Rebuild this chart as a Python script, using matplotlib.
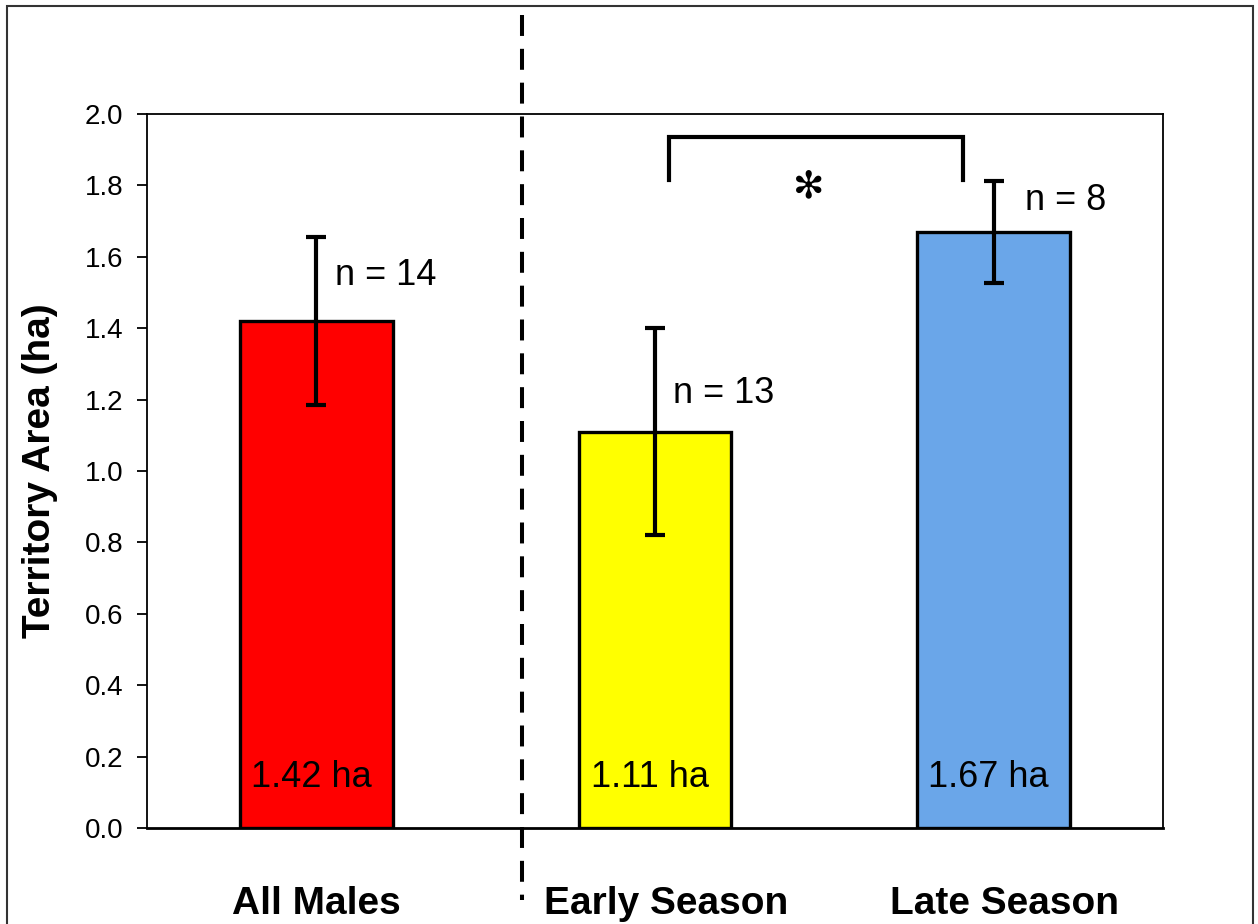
import matplotlib
matplotlib.use("Agg")
import matplotlib.pyplot as plt
from matplotlib.lines import Line2D
from matplotlib.patches import Rectangle
from matplotlib.transforms import ScaledTranslation
import numpy as np

# ---- data ----
categories = ["All Males", "Early Season", "Late Season"]
means = [1.42, 1.11, 1.67]
errors = [0.235, 0.29, 0.143]
colors = ["#FF0000", "#FFFF00", "#6AA6E9"]
n_labels = ["n = 14", "n = 13", "n = 8"]
value_labels = ["1.42 ha", "1.11 ha", "1.67 ha"]
y_ticks = [0.0, 0.2, 0.4, 0.6, 0.8, 1.0, 1.2, 1.4, 1.6, 1.8, 2.0]
y_label = "Territory Area (ha)"
sig_label = "✻"

FONT = ["Liberation Sans", "DejaVu Sans"]
plt.rcParams["font.family"] = FONT

fig = plt.figure(figsize=(12.58, 9.24), dpi=100)
ax = fig.add_axes([147 / 1258, 1 - 828 / 924, 1016 / 1258, 714 / 924])

x = np.arange(len(categories))
ax.bar(x, means, width=0.45, color=colors, edgecolor="black", linewidth=2.4, zorder=2)
ax.errorbar(x, means, yerr=errors, fmt="none", ecolor="black", elinewidth=3,
            capsize=7.5, capthick=3, zorder=3)

ax.set_xlim(-0.5, 2.5)
ax.set_ylim(0, 2.0)
ax.set_yticks(y_ticks)
ax.set_yticklabels([f"{v:.1f}" for v in y_ticks], fontsize=20)
ax.set_xticks(x)
ax.set_xticklabels(categories, fontsize=28, fontweight="bold")
ax.tick_params(axis="x", length=0, pad=42)
ax.tick_params(axis="y", direction="out", length=7, width=1.3, pad=10)
# small horizontal nudges of category labels as in the reference
label_shift_px = [0, 11, 11]
for lab, dx in zip(ax.get_xticklabels(), label_shift_px):
    lab.set_transform(lab.get_transform() + ScaledTranslation(dx / 100, 0, fig.dpi_scale_trans))
for s in ["left", "top", "right"]:
    ax.spines[s].set_linewidth(1.3)
ax.spines["bottom"].set_linewidth(2.0)

ax.set_ylabel(y_label, fontsize=28, fontweight="bold", va="center")
ax.yaxis.set_label_coords(-0.105, 0.5)

# n labels (placed just right of each error bar top)
n_pos = [(0.055, 1.52), (1.053, 1.19), (2.092, 1.732)]
for (tx, ty), lab in zip(n_pos, n_labels):
    ax.text(tx, ty, lab, fontsize=26, ha="left", va="baseline")

# value labels inside bars
for xi, lab in zip(x, value_labels):
    ax.text(xi - 0.015, 0.115, lab, fontsize=26, ha="center", va="baseline", zorder=4)

# significance bracket
bx0, bx1, by_top, by_leg = 1.041, 1.909, 1.936, 1.815
ax.plot([bx0, bx0, bx1, bx1], [by_leg, by_top, by_top, by_leg], color="black",
        linewidth=3, solid_joinstyle="miter", clip_on=False, zorder=3)
ax.text(1.455, 1.795, sig_label, fontsize=27, ha="center", va="center",
        family=["DejaVu Sans"], fontweight="bold")

# vertical dashed separator (figure coordinates)
fig.add_artist(Line2D([522 / 1258, 522 / 1258], [1 - 15 / 924, 1 - 900 / 924],
                      color="black", linewidth=2.9, linestyle=(0, (5.2, 3.2))))

# outer frame
fig.add_artist(Rectangle((7 / 1258, -0.05), (1253 - 7) / 1258, (1 - 6 / 924) + 0.05,
                         fill=False, edgecolor="#333333", linewidth=1.5,
                         transform=fig.transFigure))

fig.savefig("out.png", dpi=100)
